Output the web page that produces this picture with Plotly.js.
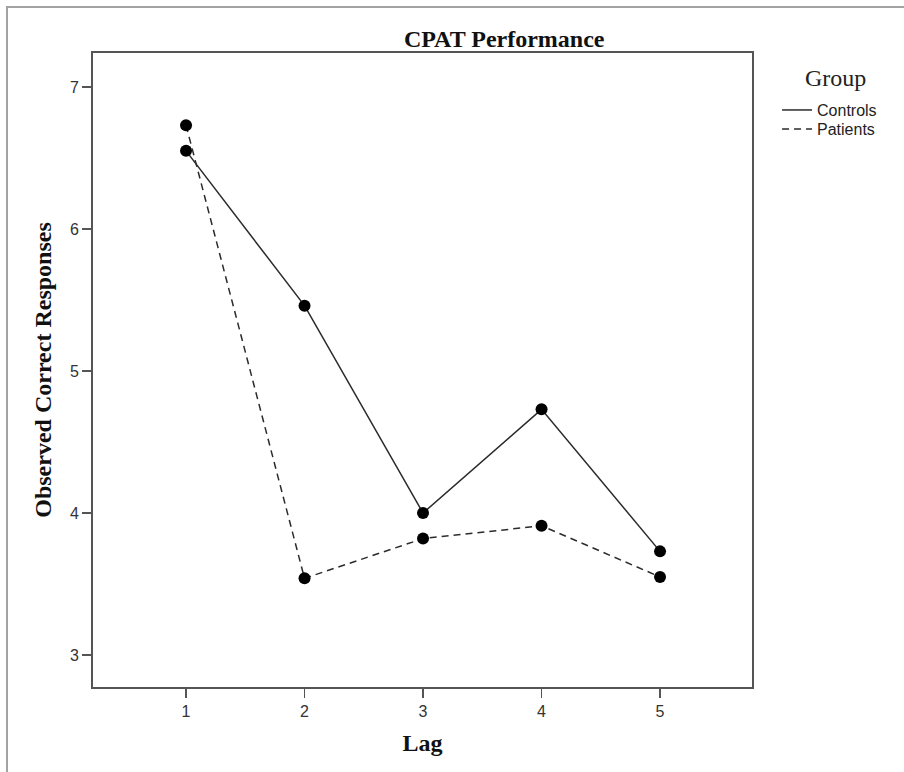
<!DOCTYPE html>
<html>
<head>
<meta charset="utf-8">
<script src="https://cdn.plot.ly/plotly-3.0.1.min.js"></script>
<style>
  html, body { margin: 0; padding: 0; background: #fff; }
  #chart { width: 904px; height: 772px; }
</style>
</head>
<body>
<div id="chart"></div>
<script>
// Mean observed correct responses by lag, per group
const lags = [1, 2, 3, 4, 5];
const controls = [6.55, 5.46, 4.00, 4.73, 3.73];
const patients = [6.73, 3.54, 3.82, 3.91, 3.55];
const yTicks = [3, 4, 5, 6, 7];

const serif = 'Liberation Serif, Times New Roman, serif';
const sans = 'Liberation Sans, Arial, sans-serif';
const ink = '#2b2b2b';

const groupLine = {
  Controls: { color: ink, width: 1.5, dash: 'solid' },
  Patients: { color: ink, width: 1.5, dash: '7px,5px' }
};
const dot = { size: 12, color: '#000' };

const traces = [
  { x: lags, y: controls, name: 'Controls', mode: 'lines+markers',
    line: groupLine.Controls, marker: dot, showlegend: false, hoverinfo: 'x+y' },
  { x: lags, y: patients, name: 'Patients', mode: 'lines+markers',
    line: groupLine.Patients, marker: dot, showlegend: false, hoverinfo: 'x+y' },
  // legend keys show only the line style, one legend box per group
  { x: [null], y: [null], name: 'Controls', mode: 'lines', line: groupLine.Controls, legend: 'legend' },
  { x: [null], y: [null], name: 'Patients', mode: 'lines', line: groupLine.Patients, legend: 'legend2' }
];

const keyLegend = (yPos) => ({
  x: 1.038, xanchor: 'left', y: yPos, yanchor: 'middle',
  bgcolor: 'rgba(0,0,0,0)', borderwidth: 0,
  itemwidth: 30,
  font: { family: sans, size: 16, color: '#222' }
});

const layout = {
  width: 904,
  height: 772,
  margin: { l: 93, r: 152, t: 53, b: 85, pad: 0 },
  paper_bgcolor: '#fff',
  plot_bgcolor: '#fff',
  showlegend: true,
  title: {
    text: '<b>CPAT Performance</b>',
    font: { family: serif, size: 24, color: '#111' },
    xref: 'paper', x: 0.624, xanchor: 'center',
    yref: 'container', y: 0.95, yanchor: 'middle'
  },
  xaxis: {
    range: [0.215, 5.776],
    tickvals: lags,
    ticktext: lags.map(String),
    ticks: 'outside', ticklen: 9, tickwidth: 1.5, tickcolor: '#555',
    tickfont: { family: sans, size: 16, color: '#333' },
    showline: true, linecolor: '#555', linewidth: 2, mirror: true,
    showgrid: false, zeroline: false,
    title: { text: '<b>Lag</b>', font: { family: serif, size: 24, color: '#111' }, standoff: 15 }
  },
  yaxis: {
    range: [2.775, 7.239],
    tickvals: yTicks,
    ticktext: yTicks.map(String),
    ticks: 'outside', ticklen: 9, tickwidth: 1.5, tickcolor: '#555',
    tickfont: { family: sans, size: 16, color: '#333' },
    showline: true, linecolor: '#555', linewidth: 2, mirror: true,
    showgrid: false, zeroline: false,
    title: { text: '<b>Observed Correct Responses</b>', font: { family: serif, size: 24, color: '#111' }, standoff: 11 }
  },
  legend: keyLegend(0.910),
  legend2: keyLegend(0.880),
  annotations: [
    { text: 'Group', xref: 'paper', yref: 'paper', x: 1.126, y: 0.9606,
      xanchor: 'center', yanchor: 'middle', showarrow: false,
      font: { family: serif, size: 24, color: '#222' } }
  ],
  shapes: [
    // outer frame around the figure
    { type: 'rect', xref: 'paper', yref: 'paper',
      x0: -0.1305, x1: 2, y0: -2, y1: 1.0726,
      line: { color: '#a3a3a3', width: 2 }, fillcolor: 'rgba(0,0,0,0)', layer: 'below' }
  ]
};

Plotly.newPlot('chart', traces, layout, { displayModeBar: false, staticPlot: true });
</script>
</body>
</html>
